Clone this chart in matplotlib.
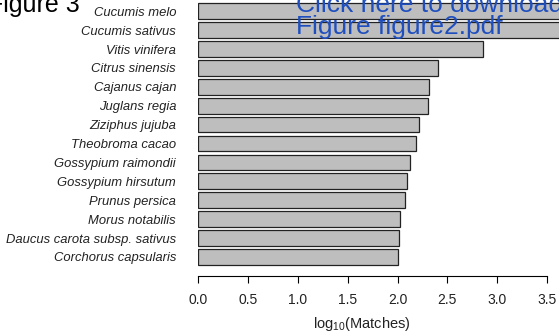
import matplotlib
matplotlib.use("Agg")
import matplotlib.pyplot as plt
import numpy as np

plt.rcParams["font.family"] = ["Liberation Sans", "DejaVu Sans"]
plt.rcParams["mathtext.fontset"] = "custom"
plt.rcParams["mathtext.rm"] = "Liberation Sans"

# species, top to bottom, and their log10 match counts
species = [
    "Cucumis melo",
    "Cucumis sativus",
    "Vitis vinifera",
    "Citrus sinensis",
    "Cajanus cajan",
    "Juglans regia",
    "Ziziphus jujuba",
    "Theobroma cacao",
    "Gossypium raimondii",
    "Gossypium hirsutum",
    "Prunus persica",
    "Morus notabilis",
    "Daucus carota subsp. sativus",
    "Corchorus capsularis",
]
log_matches = [3.85, 3.80, 2.86, 2.41, 2.32, 2.31, 2.22, 2.19,
               2.13, 2.10, 2.08, 2.03, 2.02, 2.01]
xticks = [0.0, 0.5, 1.0, 1.5, 2.0, 2.5, 3.0, 3.5]

W, H = 559, 335
fig = plt.figure(figsize=(W / 100, H / 100), dpi=100)

# axes placed in pixels; the right part runs off the page like the cropped source
x0_px, unit_px = 198.3, 99.6
ax_bottom_px = 276
ax = fig.add_axes([x0_px / W, (H - ax_bottom_px) / H, 4 * unit_px / W, ax_bottom_px / H])

y = np.arange(len(species))
ax.barh(y, log_matches, height=0.833, color="#bebebe", edgecolor="#222222", linewidth=0.9)

ax.set_xlim(0, 4)
ax.set_ylim(14.01, -0.593)

for s in ["top", "right", "left"]:
    ax.spines[s].set_visible(False)
ax.spines["bottom"].set_bounds(0, 3.5)
ax.spines["bottom"].set_linewidth(0.8)

ax.set_xticks(xticks)
ax.set_xticklabels([f"{t:.1f}" for t in xticks], fontsize=10, color="#222222")
ax.tick_params(axis="x", length=5, width=0.8, pad=7)

ax.set_yticks(y)
ax.set_yticklabels(species, fontsize=9.4, style="italic", color="#222222")
ax.tick_params(axis="y", length=0, pad=16)

ax.set_xlabel(r"$\mathregular{log_{10}}$(Matches)", fontsize=10.5, color="#222222")
ax.xaxis.set_label_coords((362 - x0_px) / (4 * unit_px), -(315 - ax_bottom_px) / ax_bottom_px)

# page furniture from the submitted PDF
fig.text(80 / W, 1 - 12 / H, "Figure 3", fontsize=18, ha="right", va="baseline")
fig.text(296 / W, 1 - 12 / H, "Click here to download", fontsize=19,
         color="#1f4fbf", ha="left", va="baseline")
fig.text(296 / W, 1 - 34 / H, "Figure figure2.pdf", fontsize=19,
         color="#1f4fbf", ha="left", va="baseline")

fig.savefig("out.png", dpi=100)
